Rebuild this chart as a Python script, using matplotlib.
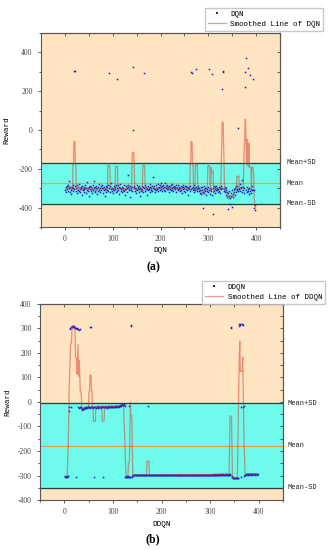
import matplotlib.pyplot as plt
import numpy as np
import pandas as pd

plt.rcParams['font.family'] = ['Liberation Mono', 'DejaVu Sans']
plt.rcParams['axes.unicode_minus'] = False

# Reward per episode, DQN (episodes 1..398)
dqn_reward = [
    -310, -296, -322, -288, -305, -315, -281, -300, -262, -318, -295, -307, -330, -292, -301, -284, -312, -298, 305, -306,
    303, -290, -316, -300, -327, -285, -309, -296, -313, -280, -304, -320, -292, -299, -335, -287, -306, -311, -294, -302,
    -318, -283, -300, -325, -297, -308, -270, -314, -301, -292, -338, -305, -289, -317, -296, -303, -324, -286, -310, -299,
    -265, -312, -295, -320, -304, -288, -331, -300, -293, -316, -279, -307, -298, -322, -290, -309, -301, -284, -326, -297,
    -311, -293, -305, -340, -288, -302, -318, -295, -309, -282, -314, 295, -300, -321, -291, -306, -275, -315, -298, -303,
    -327, -289, -310, -296, -304, -284, -318, 262, -299, -312, -286, -307, -330, -294, -301, -280, -315, -305, -292, -320,
    -298, -309, -285, -316, -302, -335, -290, -306, -300, -318, -283, -296, -230, -311, -304, -289, -347, -298, -308, -293,
    -316, 0, 325, -301, -288, -312, -297, -305, -325, -284, -310, -300, -292, -319, -306, -287, -341, -298, -303, -315,
    -290, -308, -296, -321, 293, -300, -285, -314, -302, -292, -336, -306, -289, -311, -298, -305, -280, -318, -294, -301,
    -309, -287, -313, -240, -297, -306, -291, -320, -302, -284, -311, -298, -305, -278, -316, -293, -300, -310, -286, -304,
    -296, -271, -312, -290, -301, -283, -308, -295, -275, -314, -299, -288, -306, -281, -302, -293, -319, -287, -304, -296,
    -285, -310, -298, -279, -307, -292, -316, -300, -289, -305, -294, -322, -283, -301, -297, -311, -286, -304, -292, -315,
    -300, -288, -309, -296, -327, -293, -305, -281, -312, -299, -290, -318, -303, -287, -310, -296, -333, -301, -293, -306,
    -315, -289, -302, 300, -298, 292, -311, -294, -306, -286, -320, -299, -308, -292, 315, -304, -317, -290, -301, -312,
    -298, -325, -307, -293, -331, -310, -296, -400, -318, -304, -289, -326, -312, -300, -335, -297, -315, -306, -321, -292,
    312, -309, -330, -298, -316, -305, -337, 287, -433, -301, -290, -313, -302, -324, -296, -308, -287, -311, -299, -318,
    -304, -292, -315, -300, -327, -289, -306, -298, 213, 297, 302, -312, -303, -295, -320, -308, -333, -299, -345, -318,
    -327, -405, -340, -312, -352, -380, -325, -338, -309, -395, -331, -347, -318, -305, -336, -300, -322, -291, -311, -303,
    -288, 8, -316, -297, -305, -279, -312, -300, -293, -318, -260, -307, -296, -325, -301, 220, 300, -310, 370, -322,
    -295, -314, 318, -305, -331, -299, 283, -316, -302, -327, -290, -311, 262, -310, -310, -400, -385, -410,
]

# Reward per episode, DDQN (episodes 1..398)
ddqn_reward = [
    -305, -303, -306, -304, -305, -307, -304, -303, -20, -35,
    298, 303, -20, 305, 308, 310, 306, 312, 307, 305, 309, 304, 300, 302, -305,
    298, 300, -22, 297, 295, -25, -20, 296, -24, -22,
    -28, -32, -26, -30, -24, -27, -22, -25, -21, -24, -20, -23, -19, -22, -21,
    -20, -23, 305, -21, 308, -19, -22, -20, -24, -21, -19, -308, -22, -20, -23,
    -19, -21, -20, -24, -18, -22, -20, -21, -19, -23, -20, -18, -22, -21, -305,
    -20, -19, -22, -18, -21, -20, -23, -19, -17, -21, -20, -18, -22, -19, -20,
    -17, -21, -19, -18, -22, -20, -17, -19, -21, -18, -16, -20, -19, -17, -18,
    -15, -19, -17, -14, -18, -12, -15, -10, -13, -11, -14, -9, -12, -15,
    -305, -306, -304, -307, -305, -303, -306, -304, -305, -18, -305, -306, 312, 316, -305, -300,
    -299, -297, -298, -296, -297, -298, -297, -296, -298, -297, -299, -297, -296, -298, -297, -297,
    -298, -296, -297, -298, -297, -296, -297, -298, -297, -296, -298, -297, -297, -296, -298,
    -18,
    -297, -298, -296, -297, -297, -298, -296, -297, -298, -297, -296, -297, -298, -297,
    -296, -297, -297, -298, -296, -297, -298, -297, -296, -297, -297, -298, -296, -297,
    -297, -296, -298, -297, -297, -296, -297, -298, -297, -296, -297, -297, -298, -296,
    -297, -297, -296, -298, -297, -296, -297, -297, -298, -296, -297, -296, -297, -298,
    -296, -297, -297, -296, -298, -297, -296, -297, -297, -296, -298, -297, -296, -297,
    -297, -296, -297, -298, -296, -297, -297, -296, -297, -298, -296, -297, -296, -297,
    -296, -297, -298, -296, -297, -296, -297, -297, -296, -298, -297, -296, -297, -296,
    -297, -296, -297, -296, -298, -297, -296, -297, -296, -297, -296, -298, -297, -296,
    -296, -297, -296, -297, -296, -298, -296, -297, -296, -296, -297, -296, -298, -296,
    -297, -296, -296, -297, -296, -297, -295, -296, -297, -296, -296, -297, -295, -296,
    -296, -295, -297, -296, -296, -295, -297, -296, -295, -296, -296, -297, -295, -296,
    -295, -296, -296, -295, -297, -296, -295, -296, -295, -296, -296, -295, -296, -295,
    -296, 302, 305, -300, -305, -308,
    -309, -310, -311, -309, -310, -312, -310, -309, -311, -310, -309, -310,
    312, 318, 320, 315, -20, -305, 318, 320, 316, -22, -18, -300,
    -297, -296, -295, -296, -295, -294, -296, -295, -294, -295, -296, -295, -294, -295,
    -294, -296, -295, -294, -295, -294, -295, -296, -294, -295, -294, -295, -296, -295,
]

# mean and standard deviation as marked on the figure
dqn_mean, dqn_sd = -275, 106
ddqn_mean, ddqn_sd = -178, 173

naranja = '#ffe4c2'
cian = '#6ffbeb'
azul = '#1c1cc8'
rojo = '#d83424'

fig = plt.figure(figsize=(3.33, 5.5), dpi=100)
ax_a = fig.add_axes([0.123, 0.5873, 0.718, 0.3527])
ax_b = fig.add_axes([0.12, 0.0909, 0.73, 0.3564])

paneles = [
    (ax_a, dqn_reward, 'DQN', dqn_mean, dqn_sd, (-500, 500), [400, 200, 0, -200, -400],
     (327 / 333, 1 - 4 / 550), -0.126, 4.3),
    (ax_b, ddqn_reward, 'DDQN', ddqn_mean, ddqn_sd, (-400, 400), list(range(-400, 401, 100)),
     (329 / 333, 1 - 277 / 550), -0.119, 3.0),
]

for ax, reward, nombre, media, sd, ylim, yticks, anclaje, ylab_x, desplaz in paneles:
    x = np.arange(1, len(reward) + 1)
    suave = pd.Series(reward).rolling(5, center=True, min_periods=1).mean()

    ax.set_facecolor(naranja)
    ax.axhspan(media - sd, media + sd, color=cian, zorder=0)
    ax.axhline(media + sd, color='#2f3b3b', lw=0.9, zorder=1)
    ax.axhline(media - sd, color='#2f3b3b', lw=0.9, zorder=1)
    ax.axhline(media, color='#e8a43a', lw=0.9, zorder=1)

    ax.plot(x, reward, 's', color=azul, markersize=1.1, markeredgewidth=0,
            label=nombre, zorder=2)
    ax.plot(x, suave, '-', color=rojo, lw=0.9, alpha=0.5,
            label='Smoothed Line of ' + nombre, zorder=3)

    for texto, yv in [('Mean+SD', media + sd), ('Mean', media), ('Mean-SD', media - sd)]:
        ax.annotate(texto, xy=(1, yv), xycoords=('axes fraction', 'data'),
                    xytext=(desplaz, 0), textcoords='offset points', va='center',
                    fontsize=5, color='#222222', annotation_clip=False)

    ax.set_xlim(-50, 450)
    ax.set_ylim(*ylim)
    ax.set_xticks(np.arange(0, 401, 100))
    ax.set_xticks(np.arange(-50, 451, 50), minor=True)
    ax.set_yticks(yticks)
    ax.set_yticks(np.arange(ylim[0], ylim[1] + 1, 50 if nombre == 'DDQN' else 100), minor=True)
    ax.tick_params(which='both', direction='out', labelsize=5.5, colors='#444444',
                   length=2.5, width=0.6)
    ax.tick_params(which='minor', length=1.5)
    for lab in ax.get_xticklabels() + ax.get_yticklabels():
        lab.set_family('Liberation Serif')
    for s in ax.spines.values():
        s.set_color('#555555')
        s.set_linewidth(0.8)

    # ticks hacia dentro arriba y a la derecha
    arriba = ax.secondary_xaxis('top')
    arriba.set_xticks(np.arange(0, 401, 100))
    arriba.set_xticks(np.arange(-50, 451, 50), minor=True)
    arriba.tick_params(which='both', direction='in', labeltop=False, length=2.5,
                       width=0.6, colors='#444444')
    arriba.spines['top'].set_color('#555555')
    derecha = ax.secondary_yaxis('right')
    derecha.set_yticks(np.arange(ylim[0], ylim[1] + 1, 50 if nombre == 'DDQN' else 100))
    derecha.tick_params(which='both', direction='in', labelright=False, length=2.5,
                        width=0.6, colors='#444444')
    derecha.spines['right'].set_color('#555555')

    ax.set_xlabel(nombre, fontsize=5.5, labelpad=3)
    ax.set_ylabel('Reward', fontsize=5.5)
    ax.yaxis.set_label_coords(ylab_x, 0.5)

    ax.legend(loc='upper right', bbox_to_anchor=anclaje, bbox_transform=fig.transFigure,
              fontsize=5.4, frameon=True, fancybox=False, edgecolor='#bbbbbb',
              handlelength=2.4, markerscale=1.6, borderpad=0.4, labelspacing=0.35,
              handletextpad=0.6)

fig.text(153 / 333, 1 - 267 / 550, '(a)', ha='center', va='center', fontsize=8.5,
         fontweight='bold', family='Liberation Serif')
fig.text(153 / 333, 1 - 539 / 550, '(b)', ha='center', va='center', fontsize=8.5,
         fontweight='bold', family='Liberation Serif')

plt.savefig('out.png', dpi=100)
